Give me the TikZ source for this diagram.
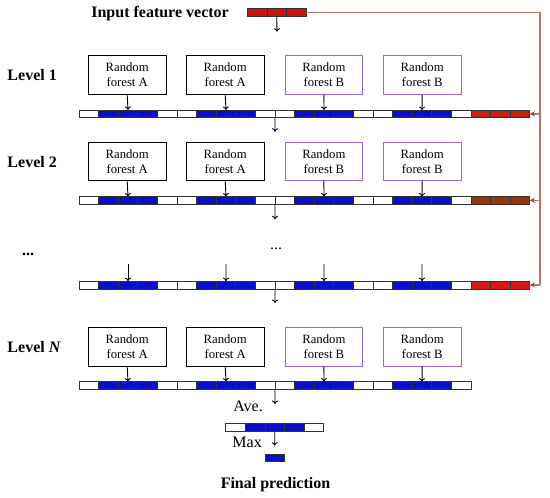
\documentclass[tikz,border=0pt]{standalone}
\usepackage{fontspec}
\setmainfont{Liberation Serif}
\usetikzlibrary{arrows.meta}
\definecolor{cB}{RGB}{10,14,196}
\definecolor{cW}{RGB}{255,255,255}
\definecolor{cRa}{RGB}{198,34,16}
\definecolor{cRb}{RGB}{150,52,12}
\definecolor{cRc}{RGB}{214,26,24}
\definecolor{cRi}{RGB}{204,22,12}
\definecolor{fbline}{RGB}{180,118,100}
\definecolor{fbtip}{RGB}{172,62,30}
\definecolor{bpurple}{RGB}{152,102,222}
\tikzset{
  cell/.style={draw=black!80,line width=0.7pt,minimum width=19.6pt,minimum height=7.7pt,inner sep=0pt,outer sep=0pt},
  rfa/.style={draw=black,line width=0.9pt,minimum width=77.7pt,minimum height=38.6pt,inner sep=0pt,align=center,font=\fontsize{12.7}{15}\selectfont},
  rfb/.style={rfa,draw=bpurple},
  arr/.style={-{To[length=3.5pt,width=6pt]},line width=0.9pt,black},
  fb/.style={line width=1.8pt,fbline},
  fbarr/.style={line width=1.4pt,fbline,-{Stealth[length=5pt,width=5pt,color=fbtip]}},
  lbl/.style={font=\fontsize{16}{18}\selectfont\bfseries,inner sep=0pt},
  txt/.style={font=\fontsize{16}{18}\selectfont,inner sep=0pt}
}
\newcommand\cellbar[4]{%
  \foreach \c [count=\i from 0] in {#4} {
    \node[cell,fill=\c] (#1-\i) at ({#2+(\i+0.5)*19.6}, #3) {};
  }%
}
\begin{document}
\begin{tikzpicture}[x=1pt,y=-1pt]
\useasboundingbox (0,0) rectangle (550,498);

% input
\node[lbl,anchor=east] (inlbl) at (229,13.5) {Input feature vector};
\cellbar{in}{247.3}{12.4}{cRi,cRi,cRi}
\coordinate (inarr) at (277,31.7);
\draw[arr] (in-1.south) -- (inarr);

% level labels
\node[lbl,anchor=west] (l1) at (7.3,75) {Level 1};
\node[lbl,anchor=west] (l2) at (7.3,162.3) {Level 2};
\node[lbl,anchor=west] (ld) at (22,254) {...};
\node[lbl,anchor=west] (ln) at (7.3,346.7) {Level \textit{N}};
\node[txt] (mdots) at (276,249) {...};

% bars
\cellbar{a}{79}{113.85}{cW,cB,cB,cB,cW,cW,cB,cB,cB,cW,cW,cB,cB,cB,cW,cW,cB,cB,cB,cW,cRa,cRa,cRa}
\cellbar{b}{79}{200.35}{cW,cB,cB,cB,cW,cW,cB,cB,cB,cW,cW,cB,cB,cB,cW,cW,cB,cB,cB,cW,cRb,cRb,cRb}
\cellbar{c}{79}{285}{cW,cB,cB,cB,cW,cW,cB,cB,cB,cW,cW,cB,cB,cB,cW,cW,cB,cB,cB,cW,cRc,cRc,cRc}
\cellbar{n}{79}{385.5}{cW,cB,cB,cB,cW,cW,cB,cB,cB,cW,cW,cB,cB,cB,cW,cW,cB,cB,cB,cW}
\cellbar{v}{225.7}{427}{cW,cB,cB,cB,cW}
\cellbar{f}{265.2}{457.85}{cB}

% boxes level 1
\node[rfa] (a1) at (127.2,75) {Random\\forest A};
\node[rfa] (a2) at (225.2,75) {Random\\forest A};
\node[rfb] (a3) at (323.9,75) {Random\\forest B};
\node[rfb] (a4) at (422.2,75) {Random\\forest B};
% boxes level 2
\node[rfa] (b1) at (127.2,161.3) {Random\\forest A};
\node[rfa] (b2) at (225.2,161.3) {Random\\forest A};
\node[rfb] (b3) at (323.9,161.3) {Random\\forest B};
\node[rfb] (b4) at (422.2,161.3) {Random\\forest B};
% boxes level N
\node[rfa] (n1) at (127.2,346.7) {Random\\forest A};
\node[rfa] (n2) at (225.2,346.7) {Random\\forest A};
\node[rfb] (n3) at (323.9,346.7) {Random\\forest B};
\node[rfb] (n4) at (422.2,346.7) {Random\\forest B};

% box arrows
\foreach \lv in {a,b,n}{
  \draw[arr] (\lv1.south) -- (\lv-2.north);
  \draw[arr] (\lv2.south) -- (\lv-7.north);
  \draw[arr] (\lv3.south) -- (\lv-12.north);
  \draw[arr] (\lv4.south) -- (\lv-17.north);
}
% dots level arrows
\coordinate (ct1) at (128,264);
\coordinate (ct2) at (226,264);
\coordinate (ct3) at (324,264);
\coordinate (ct4) at (422,264);
\draw[arr] (ct1) -- (c-2.north);
\draw[arr] (ct2) -- (c-7.north);
\draw[arr] (ct3) -- (c-12.north);
\draw[arr] (ct4) -- (c-17.north);

% downward arrows between levels
\coordinate (da) at (275,131.7);
\coordinate (db) at (275,219.3);
\coordinate (dc) at (275,303);
\coordinate (dn) at (275,404);
\coordinate (dv) at (274.7,445.7);
\draw[arr] (a-9.south east) -- (da);
\draw[arr] (b-9.south east) -- (db);
\draw[arr] (c-9.south east) -- (dc);
\draw[arr] (n-9.south east) -- (dn);
\draw[arr] (v-2.south) -- (dv);

\node[txt,anchor=east] (ave) at (263,406.7) {Ave.};
\node[txt,anchor=east] (max) at (262,442.7) {Max};
\node[lbl] (fin) at (275.5,485) {Final prediction};

% feedback line
\coordinate (fr0) at (540,12.4);
\coordinate (fr1) at (540,113.85);
\coordinate (fr2) at (540,200.35);
\coordinate (fr3) at (540,285);
\draw[fb] (in-2.east) -- (fr0) -- (fr3);
\draw[fbarr] (fr1) -- (a-22.east);
\draw[fbarr] (fr2) -- (b-22.east);
\draw[fbarr] (fr3) -- (c-22.east);
\end{tikzpicture}
\end{document}
